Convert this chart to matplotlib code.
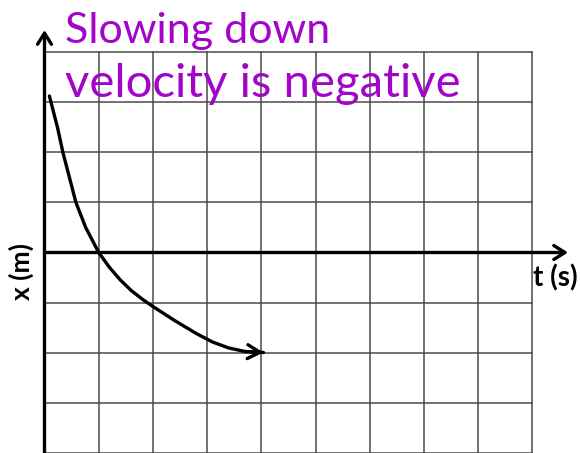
"""
位置-时间图：减速且速度为负
"""

import matplotlib

matplotlib.use("Agg")
import matplotlib.pyplot as plt

# ── 数据 ──
# 曲线 x(t)
curve_t = [0.09, 0.24, 0.34, 0.46, 0.58, 0.76, 1.0, 1.2, 1.4, 1.6, 1.8, 2.0, 2.4, 2.8, 3.1, 3.4, 3.7, 4.04]
curve_x = [3.13, 2.5, 2.0, 1.5, 1.0, 0.5, 0.0, -0.3, -0.55, -0.76, -0.93, -1.08, -1.36, -1.62, -1.79, -1.91, -1.98, -2.0]

grid_t = [1, 2, 3, 4, 5, 6, 7, 8, 9]
grid_x = [-4, -3, -2, -1, 1, 2, 3, 4]

note_lines = ["Slowing down", "velocity is negative"]
x_label = "x (m)"
t_label = "t (s)"

PURPLE = "#A204C8"
GRID = "#4a4a4a"

fig = plt.figure(figsize=(5.8, 4.53), dpi=100)
ax = fig.add_axes([0, 0, 1, 1])
ax.set_xlim(-0.821, 9.88)
ax.set_ylim(-4.01, 5.05)
ax.axis("off")

# ── 网格 ──
for t in grid_t:
    ax.plot([t, t], [-4.01, 4], color=GRID, linewidth=1.1, zorder=1)
for x in grid_x:
    ax.plot([0, 9], [x, x], color=GRID, linewidth=1.1, zorder=1)

# ── 坐标轴（带箭头） ──
axis_arrow = dict(arrowstyle="->,head_length=0.8,head_width=0.5", color="black",
                  linewidth=2.4, shrinkA=0, shrinkB=0)
ax.annotate("", xy=(0, 4.45), xytext=(0, -4.01), arrowprops=axis_arrow, zorder=3)
ax.annotate("", xy=(9.66, 0), xytext=(0, 0), arrowprops=axis_arrow, zorder=3)

# ── 曲线 ──
ax.plot(curve_t, curve_x, color="black", linewidth=2.4, solid_capstyle="round",
        solid_joinstyle="round", zorder=4)
ax.annotate("", xy=(curve_t[-1], curve_x[-1]), xytext=(curve_t[-2], curve_x[-2]),
            arrowprops=dict(arrowstyle="->,head_length=0.9,head_width=0.5", color="black",
                            linewidth=2.4, shrinkA=0, shrinkB=0), zorder=4)

# ── 轴标签 ──
ax.text(9.01, -0.5, t_label, fontsize=20, fontweight="bold", family="Lato",
        ha="left", va="center")
ax.text(-0.43, -0.39, x_label, fontsize=19, fontweight="bold", family="Lato",
        rotation=90, ha="center", va="center")

# ── 手写注释 ──
ax.text(0.38, 4.19, note_lines[0], fontsize=31, color=PURPLE, family="Lato",
        ha="left", va="baseline", zorder=5)
ax.text(0.38, 3.1, note_lines[1], fontsize=34, color=PURPLE, family="Lato",
        ha="left", va="baseline", zorder=5)

fig.savefig("out.png", dpi=100)
plt.close(fig)
